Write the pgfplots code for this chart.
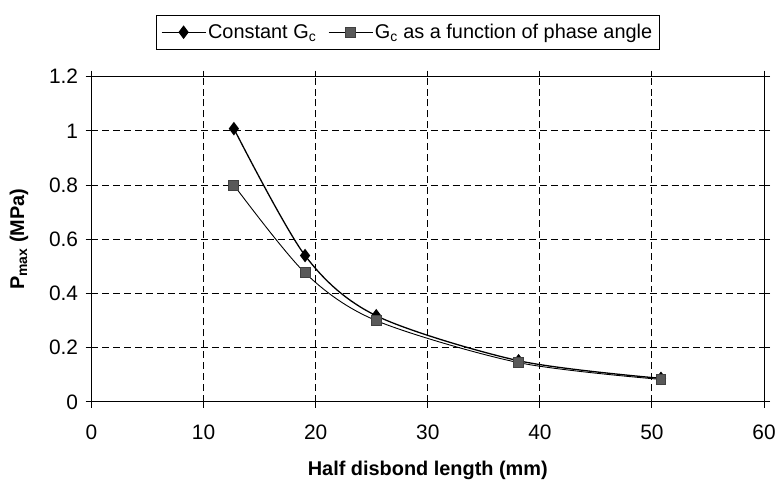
\documentclass[border=0pt]{standalone}
\usepackage{pgfplots}
\pgfplotsset{compat=1.18}
\usepackage{fontspec}
\setmainfont{Liberation Sans}
\begin{document}
\begin{tikzpicture}
\begin{axis}[
  name=ax,
  scale only axis, width=676pt, height=327pt,
  xmin=0, xmax=60, ymin=0, ymax=1.2,
  xtick={0,10,20,30,40,50,60},
  ytick={0,0.2,0.4,0.6,0.8,1,1.2},
  grid=major,
  major grid style={black, line width=1pt, dash pattern=on 7pt off 4pt},
  tick align=outside, tick style={black, line width=1pt}, major tick length=6pt,
  axis line style={line width=1.1pt},
  /pgf/number format/assume math mode=true,
  ticklabel style={font=\fontsize{21}{25}\selectfont},
  xticklabel style={yshift=-14pt},
  yticklabel style={/pgf/number format/fixed, /pgf/number format/precision=1, xshift=-4pt},
  xlabel={Half disbond length (mm)},
  ylabel={P\textsubscript{max} (MPa)},
  label style={font=\fontsize{20}{24}\selectfont\bfseries},
  xlabel style={yshift=-14pt},
  ylabel style={yshift=14pt},
  legend style={at={(0.47,1.083)}, anchor=south, legend columns=2, draw=black, line width=1pt,
    font=\fontsize{20}{24}\selectfont, inner xsep=5pt, inner ysep=7pt,
    /tikz/every even column/.append style={column sep=10pt}},
  legend cell align=left,
  legend image code/.code={\draw[mark repeat=2,mark phase=2] plot coordinates {(0pt,0pt)(22pt,0pt)(44pt,0pt)};},
]
\addplot[black, line width=1.3pt, smooth, mark=diamond*, mark size=5.8pt, mark options={fill=black, solid}]
  coordinates {(12.7,1.008)(19.05,0.54)(25.4,0.318)(38.1,0.152)(50.8,0.087)};
\addlegendentry{Constant G\textsubscript{c}}
\addplot[black, line width=0.9pt, smooth, mark=square*, mark size=5pt, mark options={fill=black!65, draw=black!75, solid}]
  coordinates {(12.7,0.80)(19.05,0.476)(25.4,0.30)(38.1,0.145)(50.8,0.083)};
\addlegendentry{G\textsubscript{c} as a function of phase angle}
\end{axis}
\path ([shift={(-92pt,-71pt)}]ax.south west) rectangle ([shift={(11pt,77pt)}]ax.north east);
\end{tikzpicture}
\end{document}
